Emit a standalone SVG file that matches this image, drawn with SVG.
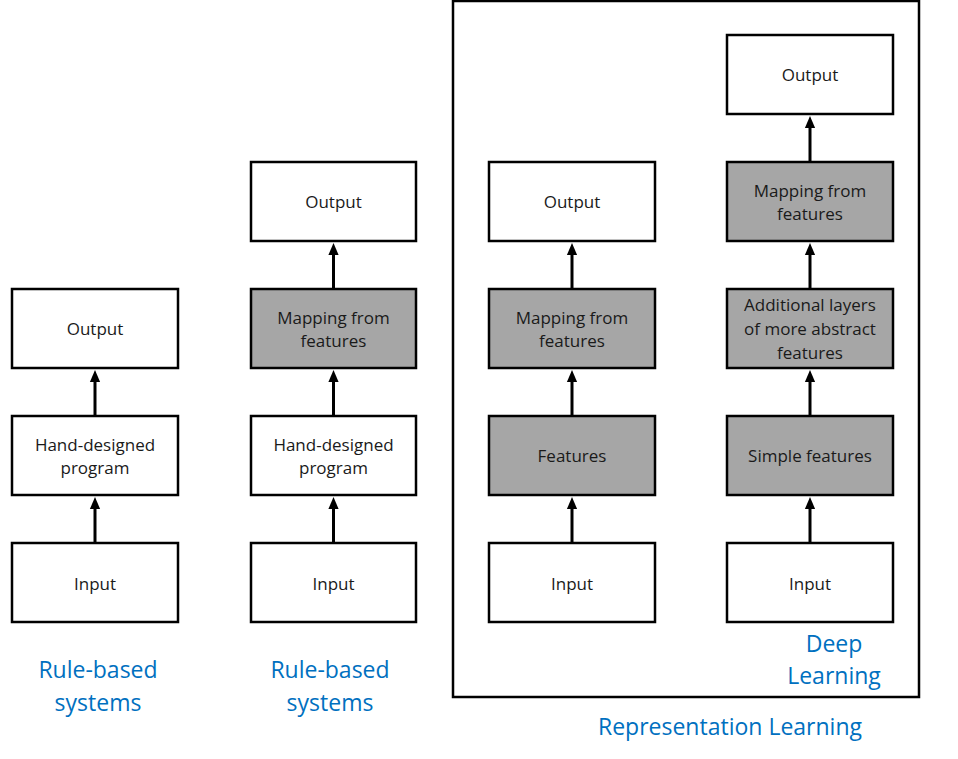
<svg xmlns="http://www.w3.org/2000/svg" width="958" height="759" viewBox="0 0 958 759">
<style>
.box{fill:#fff;stroke:#000;stroke-width:2.5}
.g{fill:#a6a6a6}
.t{font-family:"Open Sans","Liberation Sans",sans-serif;font-size:17px;fill:#1a1a1a;text-anchor:middle}
.lb{font-family:"Open Sans","Liberation Sans",sans-serif;font-size:23px;fill:#0070c0;text-anchor:middle}
.c{stroke:#000;stroke-width:3;fill:none;marker-end:url(#ah)}
</style>
<defs>
<marker id="ah" markerWidth="4" markerHeight="4" refX="2" refY="2" orient="auto" markerUnits="strokeWidth" viewBox="0 0 4 4">
<path d="M0,0.3 L4,2 L0,3.7 z" fill="#000"/>
</marker>
</defs>
<rect x="0" y="0" width="958" height="759" fill="#fff"/>
<rect id="frame" x="453" y="1" width="466" height="696" fill="none" stroke="#000" stroke-width="2.5"/>
<g id="connectors">
<line class="c" x1="95" y1="543" x2="95" y2="503"/>
<line class="c" x1="95" y1="416" x2="95" y2="376"/>
<line class="c" x1="333.5" y1="543" x2="333.5" y2="503"/>
<line class="c" x1="333.5" y1="416" x2="333.5" y2="376"/>
<line class="c" x1="333.5" y1="289" x2="333.5" y2="249"/>
<line class="c" x1="572" y1="543" x2="572" y2="503"/>
<line class="c" x1="572" y1="416" x2="572" y2="376"/>
<line class="c" x1="572" y1="289" x2="572" y2="249"/>
<line class="c" x1="810" y1="543" x2="810" y2="503"/>
<line class="c" x1="810" y1="416" x2="810" y2="376"/>
<line class="c" x1="810" y1="289" x2="810" y2="249"/>
<line class="c" x1="810" y1="162" x2="810" y2="122"/>
</g>
<g id="c1-input"><rect class="box" x="12" y="543" width="166" height="79"/><text class="t" x="95" y="590">Input</text></g>
<g id="c1-program"><rect class="box" x="12" y="416" width="166" height="79"/><text class="t" x="95" y="451">Hand-designed</text><text class="t" x="95" y="474">program</text></g>
<g id="c1-output"><rect class="box" x="12" y="289" width="166" height="79"/><text class="t" x="95" y="335">Output</text></g>
<g id="c2-input"><rect class="box" x="251" y="543" width="165" height="79"/><text class="t" x="333.5" y="590">Input</text></g>
<g id="c2-program"><rect class="box" x="251" y="416" width="165" height="79"/><text class="t" x="333.5" y="451">Hand-designed</text><text class="t" x="333.5" y="474">program</text></g>
<g id="c2-mapping"><rect class="box g" x="251" y="289" width="165" height="79"/><text class="t" x="333.5" y="324">Mapping from</text><text class="t" x="333.5" y="347">features</text></g>
<g id="c2-output"><rect class="box" x="251" y="162" width="165" height="79"/><text class="t" x="333.5" y="208">Output</text></g>
<g id="c3-input"><rect class="box" x="489" y="543" width="166" height="79"/><text class="t" x="572" y="590">Input</text></g>
<g id="c3-features"><rect class="box g" x="489" y="416" width="166" height="79"/><text class="t" x="572" y="462">Features</text></g>
<g id="c3-mapping"><rect class="box g" x="489" y="289" width="166" height="79"/><text class="t" x="572" y="324">Mapping from</text><text class="t" x="572" y="347">features</text></g>
<g id="c3-output"><rect class="box" x="489" y="162" width="166" height="79"/><text class="t" x="572" y="208">Output</text></g>
<g id="c4-input"><rect class="box" x="727" y="543" width="166" height="79"/><text class="t" x="810" y="590">Input</text></g>
<g id="c4-simple"><rect class="box g" x="727" y="416" width="166" height="79"/><text class="t" x="810" y="462">Simple features</text></g>
<g id="c4-layers"><rect class="box g" x="727" y="289" width="166" height="79"/><text class="t" x="810" y="311">Additional layers</text><text class="t" x="810" y="335">of more abstract</text><text class="t" x="810" y="359">features</text></g>
<g id="c4-mapping"><rect class="box g" x="727" y="162" width="166" height="79"/><text class="t" x="810" y="197">Mapping from</text><text class="t" x="810" y="220">features</text></g>
<g id="c4-output"><rect class="box" x="727" y="35" width="166" height="79"/><text class="t" x="810" y="81">Output</text></g>
<g id="labels">
<text class="lb" x="98" y="678">Rule-based</text><text class="lb" x="98" y="711">systems</text>
<text class="lb" x="330" y="678">Rule-based</text><text class="lb" x="330" y="711">systems</text>
<text class="lb" x="834" y="652">Deep</text><text class="lb" x="834" y="684">Learning</text>
<text class="lb" x="730" y="735">Representation Learning</text>
</g>
</svg>
